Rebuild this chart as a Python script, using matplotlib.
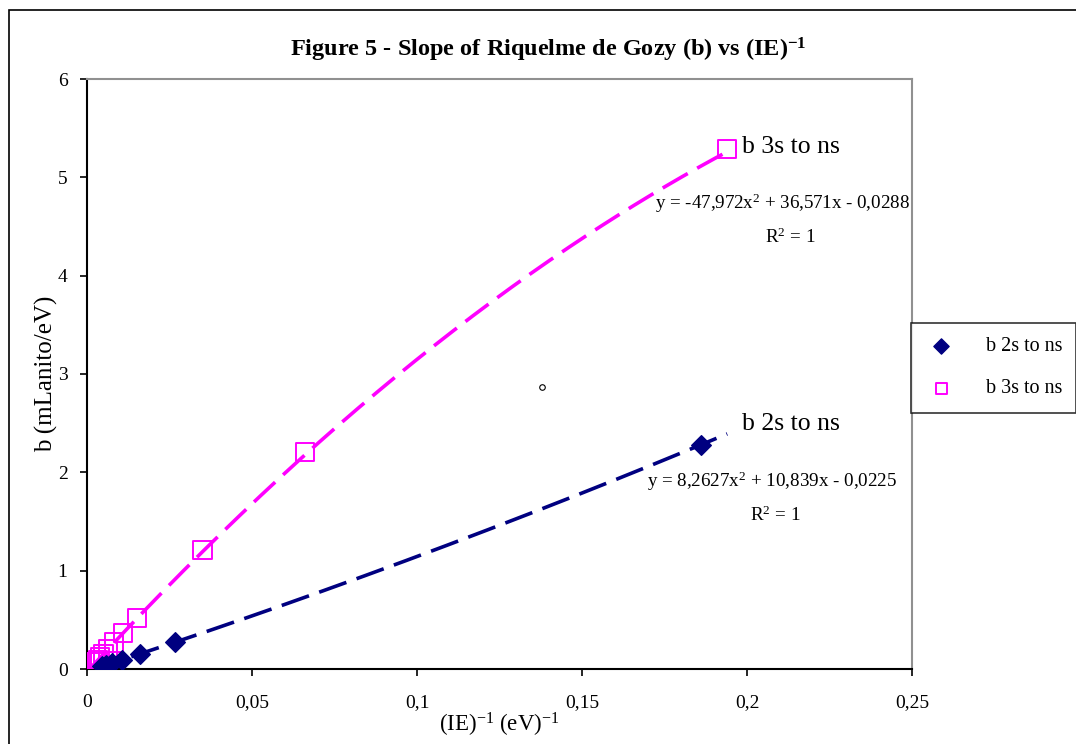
import numpy as np
import matplotlib.pyplot as plt
from matplotlib.patches import Rectangle
from matplotlib.ticker import FuncFormatter

plt.rcParams['font.family'] = ['Liberation Serif', 'DejaVu Serif']
plt.rcParams['mathtext.fontset'] = 'custom'
plt.rcParams['mathtext.rm'] = 'Liberation Serif'
plt.rcParams['mathtext.it'] = 'Liberation Serif:italic'
plt.rcParams['mathtext.bf'] = 'Liberation Serif:bold'

navy = '#000080'
magenta = '#FF00FF'

# b 2s to ns
x2s = [0.186, 0.0267, 0.016, 0.0106, 0.0077, 0.0058, 0.0045]
y2s = [2.28, 0.275, 0.153, 0.093, 0.060, 0.041, 0.027]
# b 3s to ns
x3s = [0.194, 0.066, 0.035, 0.0152, 0.011, 0.0082, 0.0063, 0.005, 0.004, 0.0033, 0.0027]
y3s = [5.29, 2.21, 1.21, 0.52, 0.37, 0.27, 0.20, 0.155, 0.12, 0.095, 0.075]

# trendline coefficients shown on the chart
coef2s = [8.2627, 10.839, -0.0225]
coef3s = [-47.972, 36.571, -0.0288]
trend_end = 0.194

xticks = [0, 0.05, 0.1, 0.15, 0.2, 0.25]
yticks = [0, 1, 2, 3, 4, 5, 6]

fig = plt.figure(figsize=(10.76, 7.44), dpi=100)
ax = fig.add_axes([87/1076, 1-669/744, (912-87)/1076, (669-79)/744])

# outer chart border
fig.patches.append(Rectangle((9/1076, -0.1), 1.2, 1-10/744+0.1, transform=fig.transFigure,
                             fill=False, edgecolor='black', lw=1.2))

xt = np.linspace(0.0, trend_end, 200)
ax.plot(xt, np.polyval(coef3s, xt), color=magenta, lw=2.6, dashes=(8, 3))
xt2 = np.linspace(0.002, trend_end, 200)
ax.plot(xt2, np.polyval(coef2s, xt2), color=navy, lw=2.6, dashes=(8, 3))

ax.scatter(x3s, y3s, marker='s', s=170, facecolors='none', edgecolors=magenta, lw=1.4, zorder=3)
ax.scatter(x2s, y2s, marker='D', s=100, color=navy, zorder=3)
ax.plot([0.138], [2.87], marker='o', ms=4, mfc='white', mec='black', mew=0.8, ls='none')

ax.set_xlim(0, 0.25)
ax.set_ylim(0, 6)
ax.set_xticks(xticks)
ax.set_yticks(yticks)
ax.xaxis.set_major_formatter(FuncFormatter(lambda v, p: ('%g' % v).replace('.', ',')))
ax.tick_params(direction='out', length=5, width=1.2, labelsize=14)
ax.tick_params(axis='x', pad=13)
ax.tick_params(axis='y', pad=9)
for s in ['left', 'bottom']:
    ax.spines[s].set_color('black')
    ax.spines[s].set_linewidth(1.5)
for s in ['top', 'right']:
    ax.spines[s].set_color('#909090')
    ax.spines[s].set_linewidth(1.5)

ax.set_xlabel(r'(IE)$^{-1}$ (eV)$^{-1}$', fontsize=16.5, labelpad=0)
ax.set_ylabel('b (mLanito/eV)', fontsize=18, labelpad=0)

fig.text(548/1076, 1-50/744, r'Figure 5 - Slope of Riquelme de Gozy (b) vs (IE)$^{\mathbf{-1}}$',
         ha='center', va='center', fontsize=17.5, fontweight='bold')

# data labels
ax.text(0.1985, 5.31, 'b 3s to ns', fontsize=18.5, va='center', ha='left')
ax.text(0.1985, 2.49, 'b 2s to ns', fontsize=18.5, va='center', ha='left')
ax.text(0.2495, 4.74, r'y = -47,972x$^2$ + 36,571x - 0,0288', fontsize=13.7, ha='right', va='center')
ax.text(0.2130, 4.39, r'R$^2$ = 1', fontsize=13.7, ha='center', va='center')
ax.text(0.2455, 1.91, r'y = 8,2627x$^2$ + 10,839x - 0,0225', fontsize=13.7, ha='right', va='center')
ax.text(0.2085, 1.56, r'R$^2$ = 1', fontsize=13.7, ha='center', va='center')

# legend
h1 = ax.scatter([], [], marker='D', s=60, color=navy)
h2 = ax.scatter([], [], marker='s', s=60, facecolors='none', edgecolors=magenta, lw=1.4)
leg = fig.legend([h1, h2], ['b 2s to ns', 'b 3s to ns'], loc='upper left',
                 bbox_to_anchor=(911/1076, 1-323/744), fontsize=14.5, frameon=True,
                 fancybox=False, edgecolor='black', labelspacing=1.15, handletextpad=1.4,
                 borderpad=0.7, borderaxespad=0, handlelength=1.6)
leg.get_frame().set_linewidth(1.2)

fig.savefig('out.png', dpi=100)
